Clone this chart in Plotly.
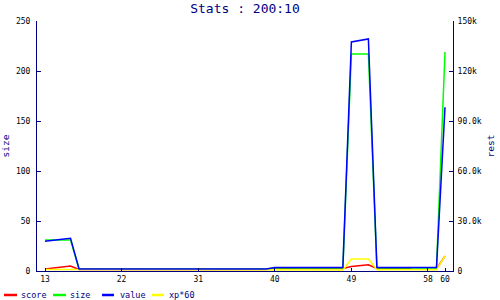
import plotly.graph_objects as go

# ---------------- data ----------------
x_vals = [13, 14, 15, 16, 17, 18, 19, 20, 21, 22, 23, 24, 25, 26, 27, 28,
          29, 30, 31, 32, 33, 34, 35, 36, 37, 38, 39, 40, 41, 42, 43, 44,
          45, 46, 47, 48, 49, 50, 51, 52, 53, 54, 55, 56, 57, 58, 59, 60]

score = [2, 3, 4.5, 5,
         1.5, 1.5, 1.5, 1.5, 1.5, 1.5, 1.5, 1.5, 1.5, 1.5, 1.5, 1.5,
         1.5, 1.5, 1.5, 1.5, 1.5, 1.5, 1.5, 1.5, 1.5, 1.5, 1.5,
         2.5, 2.5, 2.5, 2.5, 2.5, 2.5, 2.5, 2.5, 2.5,
         4.5, 5.5, 6.3,
         2.5, 2.5, 2.5, 2.5, 2.5, None, None, 2, 15]

size = [31, 31, 31, 31,
        2, 2, 2, 2, 2, 2, 2, 2, 2, 2, 2, 2,
        2, 2, 2, 2, 2, 2, 2, 2, 2, 2, 2,
        3, 3, 3, 3, 3, 3, 3, 3, 3,
        217, 217, 217,
        3, 3, 3, 3, 3, 3, 3, 3, 219]

value = [17800, 18600, 19000, 19600,
         1200, 1200, 1200, 1200, 1200, 1200, 1200, 1200, 1200, 1200, 1200, 1200,
         1200, 1200, 1200, 1200, 1200, 1200, 1200, 1200, 1200, 1200, 1200,
         2100, 2100, 2100, 2100, 2100, 2100, 2100, 2100, 2100,
         137400, 138300, 139200,
         2100, 2100, 2100, 2100, 2100, 2100, 2100, 2100, 98200]

xp60 = [1.5, 1.5, 1.5, 1.5,
        1, 1, 1, 1, 1, 1, 1, 1, 1, 1, 1, 1,
        1, 1, 1, 1, 1, 1, 1, 1, 1, 1, 1,
        1, 1, 1, 1, 1, 1, 1, 1, 1,
        12, 12, 12,
        1.2, 1.2, 1.2, 1.2, 1.2, 1.2, 1.2, 1.2, 15]

x_ticks = [13, 22, 31, 40, 49, 58, 60]
left_ticks = [0, 50, 100, 150, 200, 250]
right_tickvals = [0, 30000, 60000, 90000, 120000, 150000]
right_ticktext = ["0", "30.0k", "60.0k", "90.0k", "120k", "150k"]

series_names = ["score", "size", "value", "xp*60"]
series_colors = ["#ff0000", "#00ff00", "#0000ff", "#ffff00"]

title_text = "Stats : 200:10"
left_title = "size"
right_title = "rest"

# ---------------- layout constants ----------------
W, H = 500, 300
ML, MR, MT, MB = 37, 47, 21, 29
PW, PH = W - ML - MR, H - MT - MB
NAVY = "#00007f"
FONT = "DejaVu Sans Mono"

# legend geometry (pixels)
leg_line_x = [(4, 17), (53, 66), (102, 114), (152, 164)]
leg_text_x = [19, 68, 118, 167]
leg_y = 295


def px_x(p):
    return (p - ML) / PW


def px_y(p):
    return (H - MB - p) / PH


fig = go.Figure()
data_series = [score, size, value, xp60]
for name, color, ys in zip(series_names, series_colors, data_series):
    fig.add_trace(go.Scatter(
        x=x_vals, y=ys, name=name, mode="lines",
        line=dict(color=color, width=1.5),
        yaxis="y2" if name == "value" else "y",
        connectgaps=False,
        showlegend=False,
    ))

shapes = []
annotations = []
for (x0, x1), tx, name, color in zip(leg_line_x, leg_text_x, series_names, series_colors):
    shapes.append(dict(type="line", xref="paper", yref="paper",
                       x0=px_x(x0), x1=px_x(x1), y0=px_y(leg_y), y1=px_y(leg_y),
                       line=dict(color=color, width=2.5)))
    annotations.append(dict(text=name, xref="paper", yref="paper",
                            x=px_x(tx), y=px_y(leg_y), xanchor="left", yanchor="middle",
                            showarrow=False, font=dict(family=FONT, size=8.5, color=NAVY)))

axis_common = dict(showgrid=False, zeroline=False, showline=True, linecolor=NAVY,
                   linewidth=1, ticks="inside", tickcolor=NAVY, automargin=False,
                   tickfont=dict(family=FONT, size=8, color="black"))

fig.update_layout(
    width=W, height=H,
    margin=dict(l=ML, r=MR, t=MT, b=MB, pad=0, autoexpand=False),
    paper_bgcolor="white", plot_bgcolor="white",
    title=dict(text=title_text, x=0.5, xref="paper", xanchor="center",
               y=1 - 8.5 / H, yref="container", yanchor="middle",
               font=dict(family=FONT, size=13, color=NAVY)),
    xaxis=dict(range=[12.06, 60.94], tickvals=x_ticks, ticklen=3,
               ticklabelstandoff=0, **axis_common),
    yaxis=dict(range=[0, 250], tickvals=left_ticks, ticklen=4,
               ticklabelstandoff=4,
               title=dict(text=left_title, standoff=6,
                          font=dict(family=FONT, size=9.5, color=NAVY)),
               **axis_common),
    yaxis2=dict(range=[0, 150000], overlaying="y", side="right",
                tickvals=right_tickvals, ticktext=right_ticktext, ticklen=4,
                ticklabelstandoff=2,
                title=dict(text=right_title, standoff=6,
                           font=dict(family=FONT, size=9.5, color=NAVY)),
                **axis_common),
    shapes=shapes,
    annotations=annotations,
    showlegend=False,
)

fig.write_html("out.html")
